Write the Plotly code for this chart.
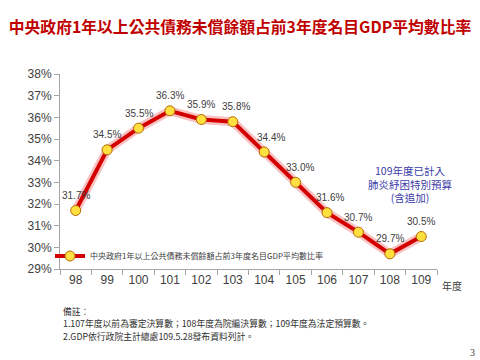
import plotly.graph_objects as go

years = ["98", "99", "100", "101", "102", "103", "104", "105", "106", "107", "108", "109"]
ratios = [31.7, 34.5, 35.5, 36.3, 35.9, 35.8, 34.4, 33.0, 31.6, 30.7, 29.7, 30.5]
label_xshift = [0, 0, 0, 0, 0, 3, 7, 4, 3, 0, 0, 0]
y_ticks = [29, 30, 31, 32, 33, 34, 35, 36, 37, 38]
series_name = "中央政府1年以上公共債務未償餘額占前3年度名目GDP平均數比率"
title_text = "中央政府1年以上公共債務未償餘額占前3年度名目GDP平均數比率"
note_text = "109年度已計入<br>肺炎紓困特別預算<br>(含追加)"
remarks = ["備註：",
           "1.107年度以前為審定決算數；108年度為院編決算數；109年度為法定預算數。",
           "2.GDP依行政院主計總處109.5.28發布資料列計。"]

CJK = "Noto Sans CJK TC, Noto Sans, sans-serif"
LAT = "Liberation Sans, Noto Sans CJK TC, sans-serif"

L, R, T, B = 60, 43, 74, 91
PW, PH = 480 - L - R, 360 - T - B


def px_x(p):
    return (p - L) / PW


def px_y(p):
    return (360 - B - p) / PH


fig = go.Figure()
fig.add_trace(go.Scatter(x=years, y=ratios, mode="lines",
                         line=dict(color="rgba(240,120,120,0.45)", width=9),
                         hoverinfo="skip", showlegend=False))
fig.add_trace(go.Scatter(x=years, y=ratios, mode="lines+markers", name=series_name,
                         line=dict(color="#D40000", width=4),
                         marker=dict(size=10, color="#FFE040",
                                     line=dict(color="#B86A00", width=1))))

for i, v in enumerate(ratios):
    fig.add_annotation(x=i, y=v, text=f"{v:.1f}%", showarrow=False,
                       xanchor="center", yanchor="middle",
                       xshift=label_xshift[i], yshift=15,
                       font=dict(family=LAT, size=10, color="#404040"))

fig.add_annotation(xref="paper", yref="paper", x=px_x(410), y=px_y(184),
                   text=note_text, showarrow=False, align="center",
                   xanchor="center", yanchor="middle",
                   font=dict(family=CJK, size=10.5, color="#3B3BA8"))

fig.update_layout(
    width=480, height=360,
    margin=dict(l=L, r=R, t=T, b=B, autoexpand=False),
    paper_bgcolor="white", plot_bgcolor="white",
    title=dict(text=title_text, x=0.5, xanchor="center", y=1 - 27 / 360, yanchor="middle",
               font=dict(family=CJK, size=15.8, color="#C00000", weight=700)),
    showlegend=True,
    legend=dict(x=px_x(50), y=px_y(256), xanchor="left", yanchor="middle",
                bgcolor="rgba(0,0,0,0)", font=dict(family=CJK, size=8, color="#404040"),
                itemwidth=30),
    xaxis=dict(type="category", range=[-0.5, 11.5], showgrid=False,
               showline=True, linecolor="#A6A6A6", linewidth=1,
               ticks="outside", tickson="boundaries", ticklen=5, tickcolor="#A6A6A6",
               tickfont=dict(family=LAT, size=12, color="#404040")),
    yaxis=dict(range=[29, 38], tickvals=y_ticks, ticktext=[f"{t}%" for t in y_ticks],
               showgrid=False, showline=True, linecolor="#A6A6A6", linewidth=1,
               ticks="outside", ticklen=5, tickcolor="#A6A6A6", zeroline=False,
               tickfont=dict(family=LAT, size=12, color="#404040")),
)

fig.add_annotation(xref="paper", yref="paper", x=px_x(440), y=px_y(285),
                   text="年度", showarrow=False, xanchor="left", yanchor="middle",
                   font=dict(family=CJK, size=10, color="#404040"))

for j, line in enumerate(remarks):
    fig.add_annotation(xref="paper", yref="paper", x=px_x(62), y=px_y(311 + 12.5 * j),
                       text=line, showarrow=False, xanchor="left", yanchor="middle",
                       align="left", borderpad=0,
                       font=dict(family=CJK, size=8.8, color="#303030"))

fig.add_annotation(xref="paper", yref="paper", x=px_x(472), y=px_y(352),
                   text="3", showarrow=False, xanchor="center", yanchor="middle",
                   font=dict(family="Liberation Serif, serif", size=10, color="#404040"))

fig.write_html("out.html", config={"displayModeBar": False},
               post_script="document.body.style.margin='0';document.body.style.overflow='hidden';")
